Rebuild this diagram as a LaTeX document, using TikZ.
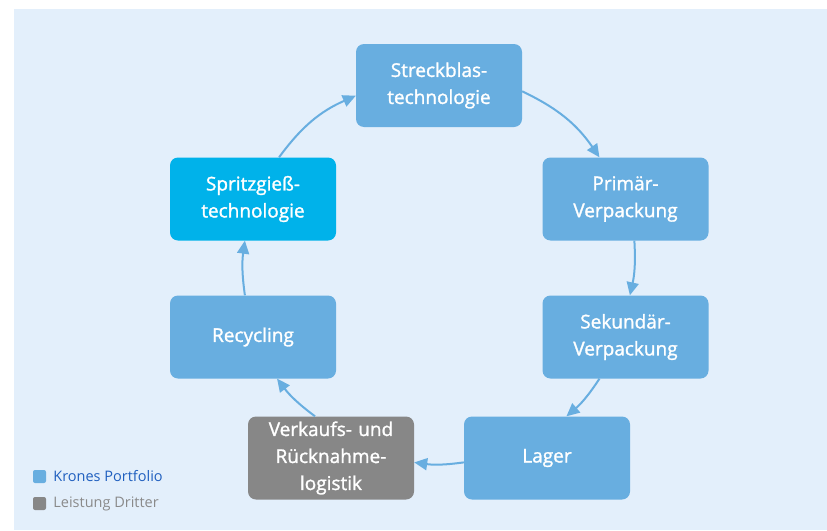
\documentclass[tikz,border=0pt]{standalone}
\usepackage{fontspec}
\setmainfont{Open Sans}
\newfontfamily\semib{Open Sans}[FakeBold=1.4]
\usepackage{xcolor}
\usepackage{tikz}
\usetikzlibrary{arrows.meta}
\usetikzlibrary{positioning}
\definecolor{kblue}{HTML}{68AEE0}
\definecolor{kcyan}{HTML}{00B2EA}
\definecolor{kgrey}{HTML}{878787}
\definecolor{kbg}{HTML}{E3EFFB}
\definecolor{ktext}{HTML}{1F5FBF}
\definecolor{gtext}{HTML}{8A8A8A}
\tikzstyle{block} = [rectangle, fill=kblue, text=white, text width=156pt,
    inner xsep=5pt, inner ysep=0pt, align=center, rounded corners=8pt,
    minimum height=83pt, font=\semib\fontsize{19}{27}\selectfont]
\tikzstyle{line} = [draw=kblue, line width=2pt,
    -{Triangle[length=13pt,width=12pt]}]
\tikzstyle{legendbox} = [rectangle, rounded corners=2pt, minimum size=13pt,
    inner sep=0pt]
\tikzstyle{legendtext} = [inner sep=0pt, font=\fontsize{14.5}{16}\selectfont]

\begin{document}
\begin{tikzpicture}[x=1pt, y=1pt]
  \useasboundingbox (0,0) rectangle (827,-530);
  \fill [kbg] (14,-9) rectangle (827,-530);
  % Place nodes
  \node [block] (streck) at (439,-85.5) {Streckblas-\\technologie};
  \node [block] (prim) at (625.5,-199) {Primär-\\Verpackung};
  \node [block] (sek) at (625.5,-337) {Sekundär-\\Verpackung};
  \node [block] (lager) at (547,-458) {Lager};
  \node [block, fill=kgrey] (logistik) at (331,-458)
        {Verkaufs- und\\Rücknahme-\\logistik};
  \node [block] (recyc) at (253,-337) {Recycling};
  \node [block, fill=kcyan] (spritz) at (253,-199) {Spritzgieß-\\technologie};
  % Legend
  \node [legendbox, fill=kblue] (lkrones) at (39.5,-476.5) {};
  \node [legendbox, fill=kgrey] (ldritte) at (39.5,-503.5) {};
  \node [legendtext, text=ktext, right=7pt of lkrones] {Krones Portfolio};
  \node [legendtext, text=gtext, right=7pt of ldritte] {Leistung Dritter};
  % Draw edges
  \path [line] (streck.-4) to[bend left=15] (prim.122);
  \path [line] (prim.-78) to[bend left=8] (sek.84);
  \path [line] (sek.-122) to[bend left=8] (lager.65);
  \path [line] (lager.-177) to[bend left=8] (logistik.-3);
  \path [line] (logistik.111) to[bend left=8] (recyc.-60);
  \path [line] (recyc.101) to[bend left=8] (spritz.-101);
  \path [line] (spritz.58) to[bend left=15] (streck.-173);
\end{tikzpicture}
\end{document}
